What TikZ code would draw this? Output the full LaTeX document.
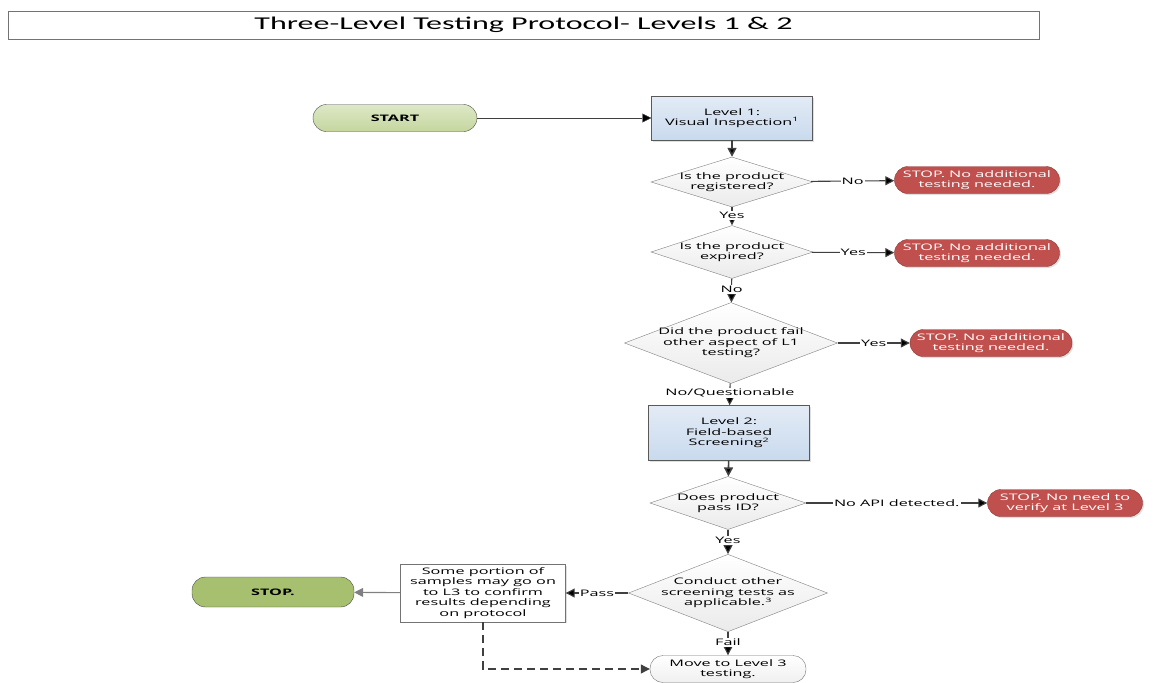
\documentclass[tikz,border=0pt]{standalone}
\usepackage{fontspec}
\setmainfont{Open Sans}
\newfontfamily\flowfont[FakeStretch=1.8]{Open Sans}
\newfontfamily\titlefont[FakeStretch=1.78]{Carlito}
\usepackage{xcolor}
\usepackage{tikz}
\usetikzlibrary{arrows.meta,shapes.geometric,shadows,calc}
\usetikzlibrary{positioning}

\definecolor{lvltop}{HTML}{E3EBF5}
\definecolor{lvlbot}{HTML}{C9DAEE}
\definecolor{gotop}{HTML}{DDE8C6}
\definecolor{gobot}{HTML}{C5D69E}
\definecolor{endgreen}{HTML}{A6C070}
\definecolor{stopred}{HTML}{C0504D}
\definecolor{stopedge}{HTML}{8E3A38}
\definecolor{linegray}{HTML}{404040}

\begin{document}
\begin{tikzpicture}[x=1pt,y=-1pt,->,>={Triangle[length=9pt,width=9pt]},line width=1.1pt,
    font=\flowfont\fontsize{9}{10.5}\selectfont]
 				 \tikzstyle{levelbox}=[draw=black!65, thin, top color=lvltop, bottom color=lvlbot, align=center,
 				     minimum width=161, drop shadow={opacity=0.25,shadow xshift=1.5pt,shadow yshift=-1.5pt}]
 				 \tikzstyle{dec}=[diamond, draw=black!50, thin, top color=white, bottom color=black!8, align=center, inner sep=0pt]
 				 \tikzstyle{halt}=[rectangle, rounded corners=13.5pt, draw=stopedge, thin, fill=stopred, text=white,
 				     align=center, minimum height=27, drop shadow={opacity=0.25,shadow xshift=1.5pt,shadow yshift=-1.5pt}]
 				 \tikzstyle{term}=[rectangle, rounded corners=13.5pt, draw=black!70, thin, align=center,
 				     font=\flowfont\fontsize{9}{10.5}\selectfont\bfseries]
 				 \tikzstyle{lbl}=[fill=white, inner sep=1pt, text=black]
 				 \tikzstyle{flow}=[draw=linegray]

 					 % title
 					 \node[draw=black!55, thin, minimum width=1031, minimum height=28, font=\titlefont\fontsize{18}{20}\selectfont]
 					     (title) at (523.5,25) {Three-Level Testing Protocol- Levels 1 \& 2};

 					 % level 1
 					 \node[term, top color=gotop, bottom color=gobot, minimum width=164, minimum height=27] (start) at (395,118) {START};
 					 \node[levelbox, minimum height=44] (lvl1) at (732,118) {Level 1:\\Visual Inspection\textsuperscript{1}};
 					 \node[dec, minimum width=162, minimum height=50, aspect=3.24, inner xsep=-4pt] (reg) at (732,182) {Is the product\\registered?};
 					 \node[halt, minimum width=165] (stopA) at (977,180) {STOP. No additional\\testing needed.};
 					 \node[dec, minimum width=162, minimum height=53, aspect=3.06, inner xsep=-4pt] (exp) at (732,252) {Is the product\\expired?};
 					 \node[halt, minimum width=165] (stopB) at (977,253) {STOP. No additional\\testing needed.};
 					 \node[dec, minimum width=213, minimum height=81, aspect=2.63, inner xsep=-6pt] (fail) at (731,343) {Did the product fail\\other aspect of L1\\testing?};
 					 \node[halt, minimum width=162] (stopC) at (991,343) {STOP. No additional\\testing needed.};

 					 % level 2
 					 \node[levelbox, minimum height=55] (lvl2) at (729,433) {Level 2:\\Field-based\\Screening\textsuperscript{2}};
 					 \node[dec, minimum width=156, minimum height=53, aspect=2.94, inner xsep=-4pt] (pid) at (728,503) {Does product\\pass ID?};
 					 \node[halt, minimum width=155] (stopD) at (1065,503) {STOP. No need to\\verify at Level 3};
 					 \node[dec, minimum width=195, minimum height=76, aspect=2.57, inner xsep=-6pt] (other) at (728,593) {Conduct other\\screening tests as\\applicable.\textsuperscript{3}};
 					 \node[rectangle, rounded corners=13pt, draw=black!55, thin, top color=white, bottom color=black!6,
 					     align=center, minimum width=156, minimum height=27] (move) at (728,669) {Move to Level 3\\testing.};
 					 \node[rectangle, draw=black!55, thin, fill=white, align=center, minimum width=165, minimum height=53,
 					     drop shadow={opacity=0.25,shadow xshift=1.5pt,shadow yshift=-1.5pt}]
 					     (portion) at (483,593) {Some portion of\\samples may go on\\to L3 to confirm\\results depending\\on protocol};
 					 \node[term, fill=endgreen, minimum width=162, minimum height=30] (finish) at (273,592) {STOP.};

 					 \path[flow]
 					     (start) edge[thin] (lvl1)
 					     (lvl1) edge[line width=1.6pt] (reg)
 					     (reg) edge node[lbl]{No} (stopA)
 					     (reg) edge node[lbl,pos=0.45]{Yes} (exp)
 					     (exp) edge node[lbl]{Yes} (stopB)
 					     (exp) edge node[lbl,pos=0.45]{No} (fail)
 					     (fail) edge node[lbl]{Yes} (stopC)
 					     (fail) edge node[lbl,pos=0.45]{No/Questionable} (lvl2)
 					     (lvl2) edge[line width=1.6pt] (pid)
 					     (pid) edge node[lbl]{No API detected.} (stopD)
 					     (pid) edge node[lbl,pos=0.45]{Yes} (other)
 					     (other) edge node[lbl]{Pass} (portion)
 					     (other) edge node[lbl,pos=0.45]{Fail} (move)
 					     (portion) edge[draw=black!50] (finish);
 					 \draw[flow, dash pattern=on 8pt off 5pt] (portion.south) |- (move.west);

 					 \useasboundingbox (0,0) rectangle (1166,680);
\end{tikzpicture}
\end{document}
